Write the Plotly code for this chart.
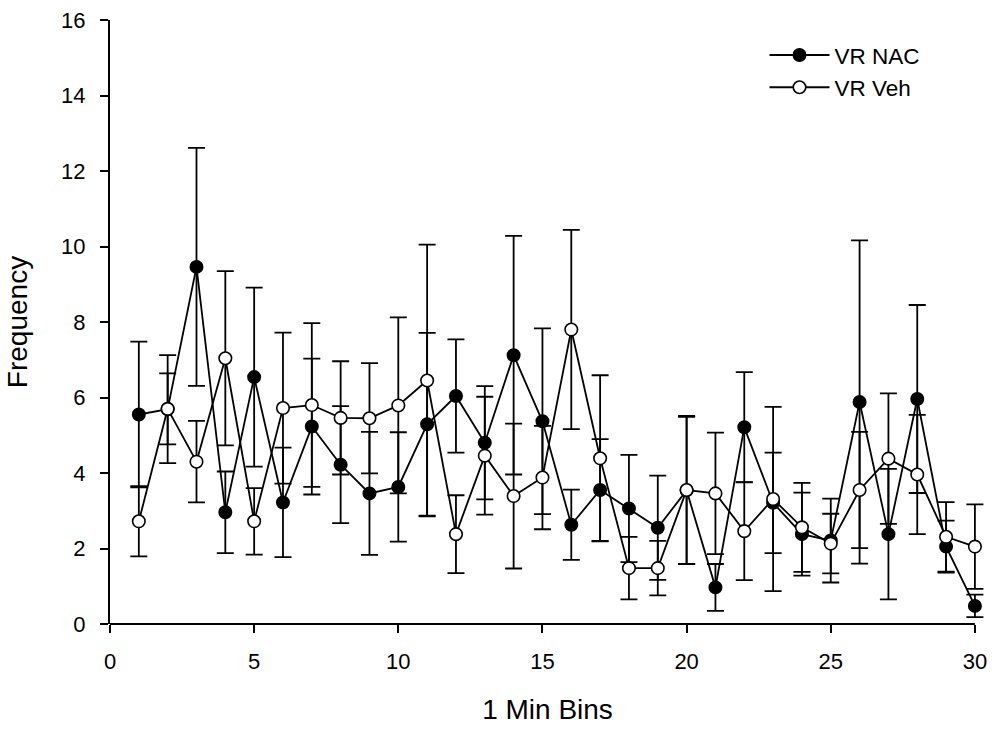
import plotly.graph_objects as go

# 1-minute bins
bins = list(range(1, 31))

# VR NAC: mean frequency and error per bin
nac_mean = [5.55, 5.69, 9.46, 2.96, 6.54, 3.22, 5.23, 4.22, 3.46, 3.63,
            5.29, 6.04, 4.80, 7.12, 5.37, 2.63, 3.55, 3.06, 2.55, 3.54,
            0.97, 5.21, 3.21, 2.38, 2.21, 5.88, 2.38, 5.96, 2.05, 0.48]
nac_err = [1.93, 1.43, 3.15, 1.08, 2.37, 1.45, 1.80, 1.55, 1.63, 1.45,
           2.42, 1.50, 1.50, 3.16, 2.46, 0.93, 1.35, 1.42, 1.38, 1.95,
           0.62, 1.46, 1.33, 1.10, 1.11, 4.28, 1.73, 2.49, 0.69, 0.30]

# VR Veh: mean frequency and error per bin
veh_mean = [2.72, 5.70, 4.30, 7.04, 2.72, 5.72, 5.80, 5.46, 5.45, 5.79,
            6.45, 2.38, 4.46, 3.39, 3.88, 7.80, 4.39, 1.48, 1.48, 3.55,
            3.46, 2.46, 3.31, 2.56, 2.13, 3.55, 4.38, 3.96, 2.31, 2.05]
veh_err = [0.93, 0.94, 1.08, 2.31, 0.88, 2.00, 2.17, 1.50, 1.46, 2.33,
           3.60, 1.03, 1.56, 1.92, 1.37, 2.64, 2.20, 0.83, 0.72, 1.96,
           1.61, 1.30, 2.44, 1.18, 0.79, 1.54, 1.73, 1.58, 0.92, 1.12]

x_ticks = [0, 5, 10, 15, 20, 25, 30]
y_ticks = [0, 2, 4, 6, 8, 10, 12, 14, 16]
X_MAX = 30          # last labelled bin; the x axis line stops here
X_PAD = 0.35        # room on the right so end-of-axis caps are not clipped

FONT = "Liberation Sans, Arial, sans-serif"
LW = 1.8

fig = go.Figure()

fig.add_trace(go.Scatter(
    x=bins, y=nac_mean, name="VR NAC", mode="lines+markers",
    line=dict(color="black", width=LW),
    marker=dict(symbol="circle", size=12.5, color="black",
                line=dict(color="black", width=1.5)),
    error_y=dict(type="data", array=nac_err, visible=True,
                 color="black", thickness=LW, width=8.5),
    cliponaxis=False,
))

fig.add_trace(go.Scatter(
    x=bins, y=veh_mean, name="VR Veh", mode="lines+markers",
    line=dict(color="black", width=LW),
    marker=dict(symbol="circle", size=12.5, color="white",
                line=dict(color="black", width=1.6)),
    error_y=dict(type="data", array=veh_err, visible=True,
                 color="black", thickness=LW, width=8.5),
    cliponaxis=False,
))

# x axis line drawn only over the labelled span 0..30
fig.add_shape(type="line", xref="x", yref="paper",
              x0=0, x1=X_MAX, y0=0, y1=0,
              line=dict(color="black", width=2))

fig.update_layout(
    width=995, height=730,
    margin=dict(l=110, r=8, t=20, b=106),
    paper_bgcolor="white", plot_bgcolor="white",
    font=dict(family=FONT, color="black"),
    showlegend=True,
    legend=dict(
        x=0.748, y=0.977, xanchor="left", yanchor="top",
        bgcolor="rgba(0,0,0,0)", font=dict(size=22.5, family=FONT),
        itemwidth=60, tracegroupgap=0,
    ),
    xaxis=dict(
        range=[0, X_MAX + X_PAD], tickvals=x_ticks,
        ticktext=[str(v) for v in x_ticks],
        showline=False,
        ticks="outside", ticklen=8, tickwidth=1.5, tickcolor="black",
        showgrid=False, zeroline=False,
        tickfont=dict(size=22, family=FONT), ticklabelstandoff=10,
        title=dict(text="1 Min Bins", font=dict(size=28, family=FONT), standoff=25),
    ),
    yaxis=dict(
        range=[0, 16], tickvals=y_ticks, ticktext=[str(v) for v in y_ticks],
        showline=True, linecolor="black", linewidth=2,
        ticks="outside", ticklen=8, tickwidth=1.5, tickcolor="black",
        showgrid=False, zeroline=False,
        tickfont=dict(size=22, family=FONT), ticklabelstandoff=10,
        title=dict(text="Frequency", font=dict(size=28, family=FONT), standoff=25),
    ),
)

fig.write_html("out.html")
